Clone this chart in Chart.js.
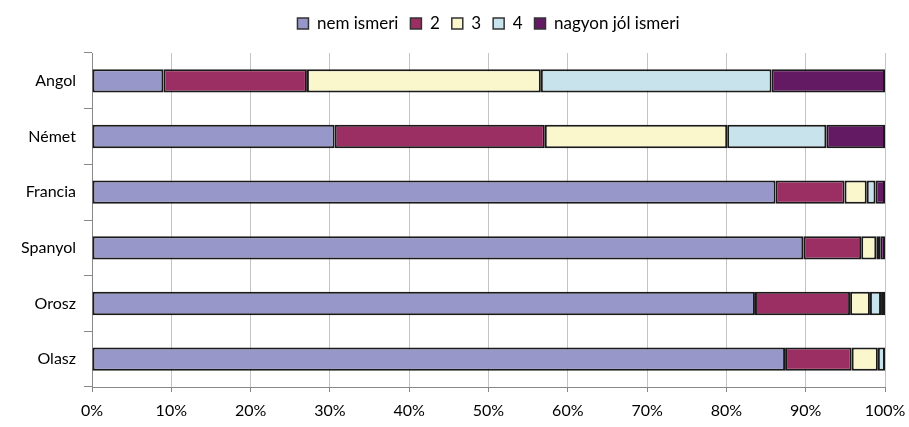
<!DOCTYPE html>
<html>
<head>
<meta charset="utf-8">
<script src="https://cdn.jsdelivr.net/npm/chart.js@4/dist/chart.umd.min.js"></script>
<style>
  html, body { margin: 0; padding: 0; background: #fff; }
  #wrap { width: 909px; height: 427px; position: relative; }
</style>
</head>
<body>
<div id="wrap"><canvas id="chart"></canvas></div>
<script>
// languages, top to bottom
const languages = ["Angol", "Német", "Francia", "Spanyol", "Orosz", "Olasz"];
const seriesNames = ["nem ismeri", "2", "3", "4", "nagyon jól ismeri"];

// share of answers per language (%)
const nemIsmeri = [9.0, 30.6, 86.2, 89.7, 83.6, 87.4];
const level2 = [18.1, 26.5, 8.7, 7.3, 12.0, 8.4];
const level3 = [29.5, 23.0, 2.8, 1.9, 2.5, 3.3];
const level4 = [29.1, 12.5, 1.1, 0.5, 1.4, 0.9];
const nagyonJol = [14.3, 7.4, 1.2, 0.6, 0.5, 0.0];

const xTicks = [0, 10, 20, 30, 40, 50, 60, 70, 80, 90, 100];

const colors = ["#9797c9", "#9b2e62", "#faf7cd", "#c9e3ec", "#641a62"];
const values = [nemIsmeri, level2, level3, level4, nagyonJol];

const fontFamily = "Lato, 'Open Sans', sans-serif";

const datasets = seriesNames.map((name, i) => ({
  label: name,
  data: values[i],
  backgroundColor: colors[i],
  borderColor: "#1a1a1a",
  borderWidth: 2,
  borderSkipped: false,
  categoryPercentage: 1.0,
  barPercentage: 0.42,
}));

// extra room under the legend, and centre it over the plot area
const legendTweaks = {
  id: "legendTweaks",
  beforeInit(chart) {
    const fit = chart.legend.fit;
    chart.legend.fit = function () {
      fit.bind(chart.legend)();
      this.height += 11;
    };
  },
  beforeDraw(chart) {
    chart.legend.left = chart.chartArea.left;
    chart.legend.right = chart.chartArea.right;
  },
};

new Chart(document.getElementById("chart"), {
  type: "bar",
  data: { labels: languages, datasets: datasets },
  plugins: [legendTweaks],
  options: {
    indexAxis: "y",
    responsive: true,
    maintainAspectRatio: false,
    animation: false,
    layout: { padding: { top: 3, right: 24, bottom: 0, left: 0 } },
    plugins: {
      tooltip: { enabled: false },
      legend: {
        position: "top",
        labels: {
          font: { family: fontFamily, size: 17 },
          color: "#000",
          boxWidth: 11,
          boxHeight: 11,
          padding: 12,
          useBorderRadius: false,
          generateLabels: (chart) =>
            chart.data.datasets.map((ds, i) => ({
              text: ds.label,
              fillStyle: ds.backgroundColor,
              strokeStyle: "#333",
              lineWidth: 1.5,
              datasetIndex: i,
            })),
        },
      },
    },
    scales: {
      x: {
        stacked: true,
        min: 0,
        max: 100,
        afterBuildTicks: (axis) => {
          axis.ticks = xTicks.map((v) => ({ value: v }));
        },
        afterFit: (axis) => {
          axis.height = 40;
          axis.paddingLeft = 0;
          axis.paddingRight = 0;
        },
        ticks: {
          callback: (v) => v + "%",
          font: { family: fontFamily, size: 16 },
          color: "#000",
          padding: 9,
        },
        grid: { color: "#c4c4c4", lineWidth: 1, tickLength: 5, tickColor: "#888" },
        border: { color: "#888", width: 1 },
      },
      y: {
        stacked: true,
        afterFit: (axis) => { axis.width = 92; },
        ticks: {
          font: { family: fontFamily, size: 16 },
          color: "#000",
          padding: 8,
        },
        grid: { drawOnChartArea: false, tickLength: 8, color: "#888", offset: true },
        border: { color: "#888", width: 1 },
      },
    },
  },
});
</script>
</body>
</html>
